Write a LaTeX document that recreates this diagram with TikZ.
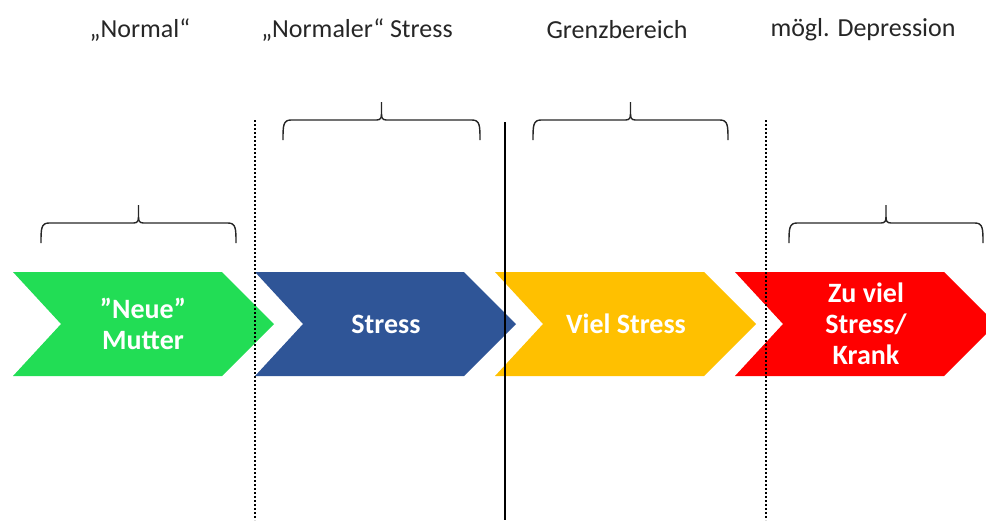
\documentclass[tikz,border=0pt]{standalone}
\usepackage{fontspec}
\setmainfont{Carlito}
\definecolor{cgreen}{RGB}{34,221,85}
\definecolor{cblue}{RGB}{47,85,151}
\definecolor{cyellow}{RGB}{255,192,0}
\definecolor{cred}{RGB}{255,0,0}
\definecolor{ctext}{RGB}{38,38,38}
\newcommand{\mychev}[2]{%
  \fill[#2] (#1,272) -- (#1+209,272) -- (#1+261,324) -- (#1+209,376) -- (#1,376) -- (#1+48,324) -- cycle;}
\newcommand{\mybrace}[4]{% x1, x2, ytop(tip), ybottom(ends)
  \draw[bracestyle] (#1,#4) .. controls (#1,#4-14) and (#1,#4-20) .. (#1+8,#4-20)
    -- ({(#1+#2)/2-5},#4-20) .. controls ({(#1+#2)/2-1},#4-20) and ({(#1+#2)/2},#4-22) .. ({(#1+#2)/2},#4-26)
    -- ({(#1+#2)/2},#3);
  \draw[bracestyle] (#2,#4) .. controls (#2,#4-14) and (#2,#4-20) .. (#2-8,#4-20)
    -- ({(#1+#2)/2+5},#4-20) .. controls ({(#1+#2)/2+1},#4-20) and ({(#1+#2)/2},#4-22) .. ({(#1+#2)/2},#4-26);}
\begin{document}
\begin{tikzpicture}[x=1pt,y=-1pt,
  header/.style={text=ctext, font=\fontsize{26}{30}\selectfont, inner sep=0pt},
  chevtext/.style={text=white, font=\bfseries\fontsize{28}{31}\selectfont, align=center, inner sep=0pt},
  bracestyle/.style={draw=black!85, line width=1.4pt},
  dotline/.style={line width=2.2pt, dash pattern=on 2pt off 2pt},
  solidline/.style={line width=2.4pt}]
\useasboundingbox (0,0) rectangle (986,520);
\begin{scope}
\clip (0,0) rectangle (986,520);
\mychev{13}{cgreen}
\mychev{255}{cblue}
\mychev{495}{cyellow}
\mychev{735}{cred}
\end{scope}
% texts in chevrons
\node[chevtext] (t1) at (143,324) {\char"22Neue\char"22\\Mutter};
\node[chevtext] (t2) at (386,324) {Stress};
\node[chevtext] (t3) at (626,324) {Viel Stress};
\node[chevtext] (t4) at (866,324) {Zu viel\\Stress/\\Krank};
% header texts
\node[header] (h1) at (140,30) {„Normal“};
\node[header] (h2) at (357,30) {„Normaler“ Stress};
\node[header] (h3) at (617,30) {Grenzbereich};
\node[header] (h4) at (863,30) {mögl. Depression};
% braces
\mybrace{41}{236}{205}{243}
\mybrace{283}{480}{102}{140}
\mybrace{533}{728}{102}{140}
\mybrace{789}{983}{205}{243}
% vertical separators
\coordinate (d1t) at (255,120); \coordinate (d1b) at (255,520);
\coordinate (s1t) at (505,122); \coordinate (s1b) at (505,520);
\coordinate (d2t) at (766,120); \coordinate (d2b) at (766,520);
\draw[dotline] (d1t) -- (d1b);
\draw[solidline] (s1t) -- (s1b);
\draw[dotline] (d2t) -- (d2b);
\end{tikzpicture}
\end{document}
